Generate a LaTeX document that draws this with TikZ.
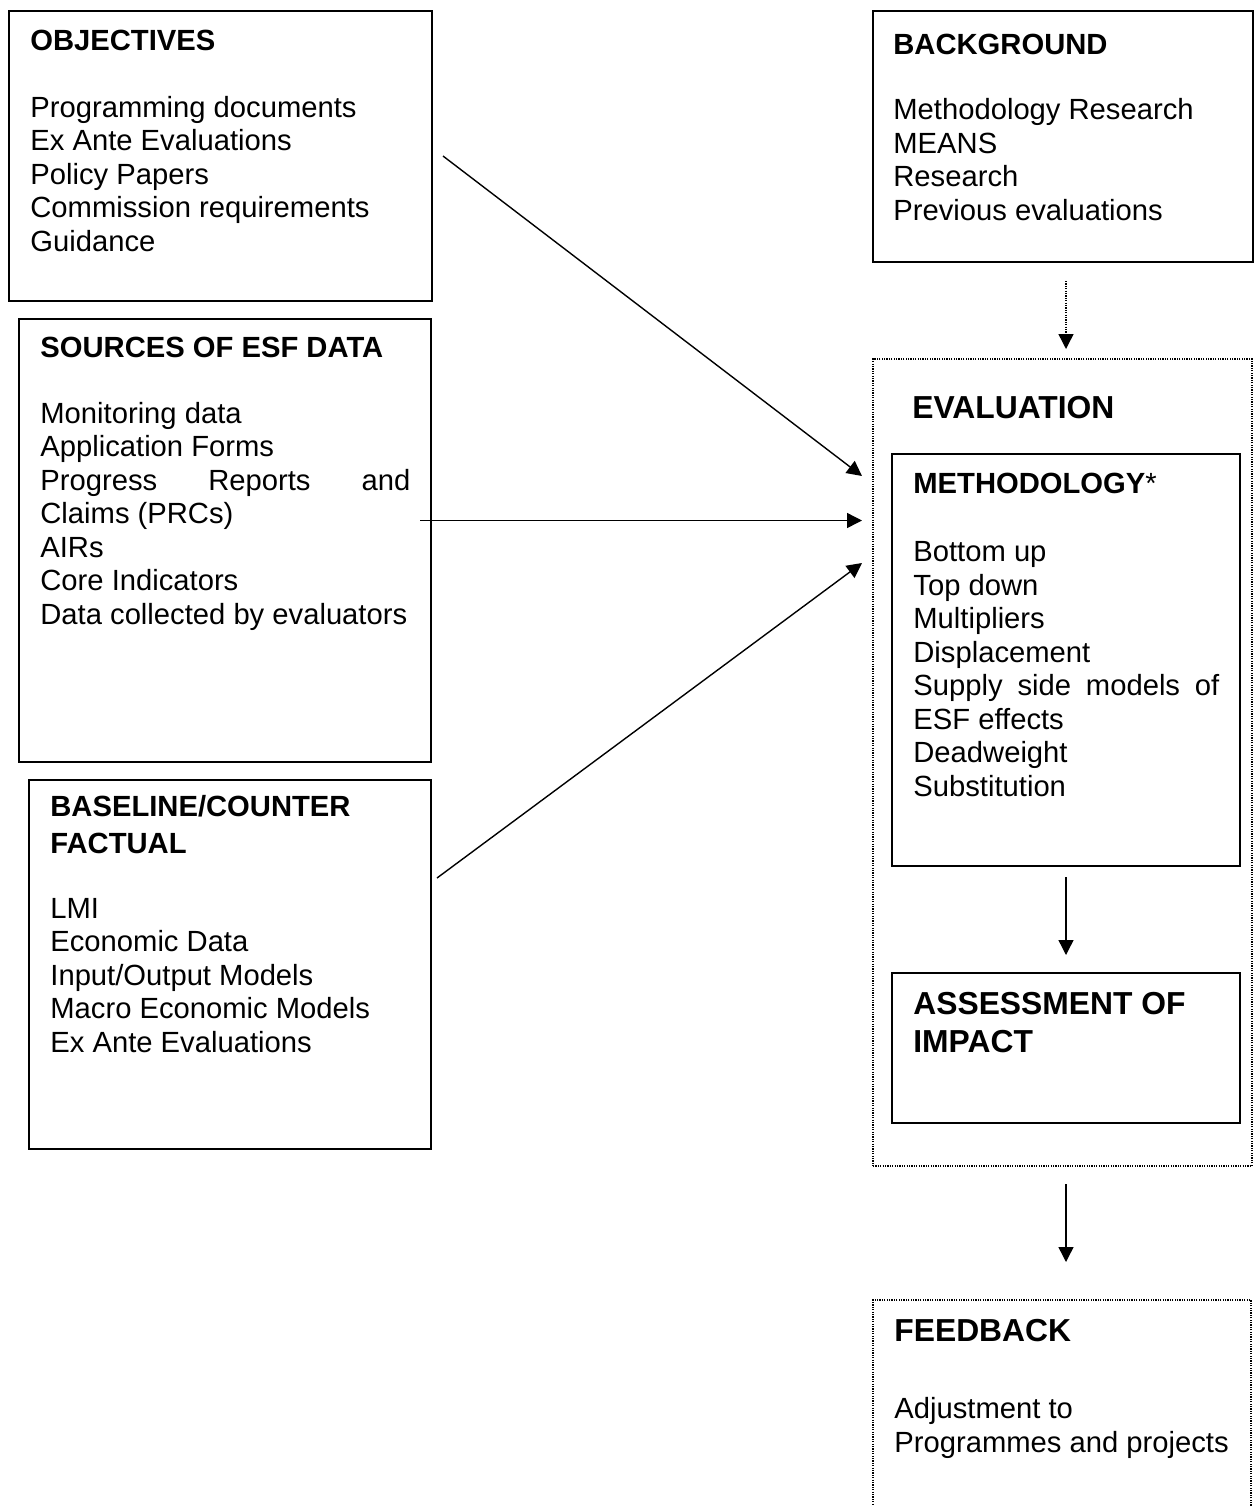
\documentclass[tikz,border=0pt]{standalone}
\usepackage{fontspec}
\setmainfont{Liberation Sans}
\usetikzlibrary{arrows.meta,calc}
\tikzset{%
	box/.style    = {draw, rectangle, line width=0.8pt, inner sep=0pt, outer sep=0pt, anchor=north west},
	dotbox/.style = {box, line width=0.6pt, dash pattern=on 0.6pt off 0.6pt},
	ttl/.style    = {anchor=base west, align=left, inner sep=0pt, font=\fontsize{14.6}{18.25}\selectfont\bfseries},
	bigttl/.style = {ttl, font=\fontsize{15.9}{18.6}\selectfont\bfseries},
	txt/.style    = {anchor=base west, align=left, inner sep=0pt, font=\fontsize{14.6}{16.75}\selectfont},
	arrow/.style  = {line width=0.7pt, -{Triangle[length=7.5pt,width=7.5pt]}},
}
\begin{document}
\begin{tikzpicture}[x=0.5pt,y=-0.5pt]
	\useasboundingbox (0,0) rectangle (1254,1506);
	
	% left column (text nodes sit on the baseline of their last line)
	\node[box, minimum width=211.5pt, minimum height=145pt] (obj) at (9,11) {};
	\node[ttl] (objttl) at (30,50) {OBJECTIVES};
	\node[txt] (objtxt) at (30,251) {Programming documents\\Ex Ante Evaluations\\Policy Papers\\Commission requirements\\Guidance};
	
	\node[box, minimum width=206pt, minimum height=221.5pt] (src) at (19,319) {};
	\node[ttl] (srcttl) at (40,357) {SOURCES OF ESF DATA};
	\node[txt] (srctxt) at (40,624) {Monitoring data\\Application Forms\\\makebox[185pt][s]{Progress Reports and}\\Claims (PRCs)\\AIRs\\Core Indicators\\Data collected by evaluators};
	
	\node[box, minimum width=201pt, minimum height=184.5pt] (base) at (29,780) {};
	\node[ttl] (basettl) at (50,853) {BASELINE/COUNTER\\FACTUAL};
	\node[txt] (basetxt) at (50,1052) {LMI\\Economic Data\\Input/Output Models\\Macro Economic Models\\Ex Ante Evaluations};
	
	% right column
	\node[box, minimum width=190pt, minimum height=125.5pt] (back) at (873,11) {};
	\node[ttl] (backttl) at (893,54) {BACKGROUND};
	\node[txt] (backtxt) at (893,220) {Methodology Research\\MEANS\\Research\\Previous evaluations};
	
	\node[dotbox, minimum width=189.5pt, minimum height=403.5pt] (eval) at (873,359) {};
	\node[bigttl] (evalttl) at (912,418) {EVALUATION};
	
	\node[box, minimum width=174pt, minimum height=206pt] (meth) at (892,454) {};
	\node[ttl] (methttl) at (913,493) {METHODOLOGY{\mdseries*}};
	\node[txt] (methtxt) at (913,796) {Bottom up\\Top down\\Multipliers\\Displacement\\\makebox[153pt][s]{Supply side models of}\\ESF effects\\Deadweight\\Substitution};
	
	\node[box, minimum width=174pt, minimum height=75pt] (assess) at (892,973) {};
	\node[bigttl] (assessttl) at (913,1052) {ASSESSMENT OF\\IMPACT};
	
	\node[dotbox, minimum width=189pt, minimum height=125pt] (feed) at (873,1300) {};
	\node[bigttl] (feedttl) at (894,1341.5) {FEEDBACK};
	\node[txt] (feedtxt) at (894,1452) {Adjustment to\\Programmes and projects};
	
	% connectors
	\draw[arrow] ($(obj.east)+(5.5pt,0)$) -- ($(eval.west |- meth.north)+(-5.5pt,-11pt)$);
	\draw[arrow] ($(src.east)+(-5.5pt,10pt)$) -- ($(eval.west |- src.east)+(-5.5pt,10pt)$);
	\draw[arrow] ($(base.east)+(3pt,43.25pt)$) -- ($(eval.west |- meth.north)+(-5.5pt,-54.5pt)$);
	\draw[arrow, dash pattern=on 0.6pt off 0.6pt] ($(meth.north |- back.south)+(0,-9.5pt)$) -- ($(meth.north |- eval.north)+(0,5pt)$);
	\draw[arrow] ($(meth.south)+(0,-5.5pt)$) -- ($(assess.north)+(0,9pt)$);
	\draw[arrow] ($(meth.south |- eval.south)+(0,-9pt)$) -- ($(meth.south |- feed.north)+(0,19pt)$);
	
\end{tikzpicture}
\end{document}
